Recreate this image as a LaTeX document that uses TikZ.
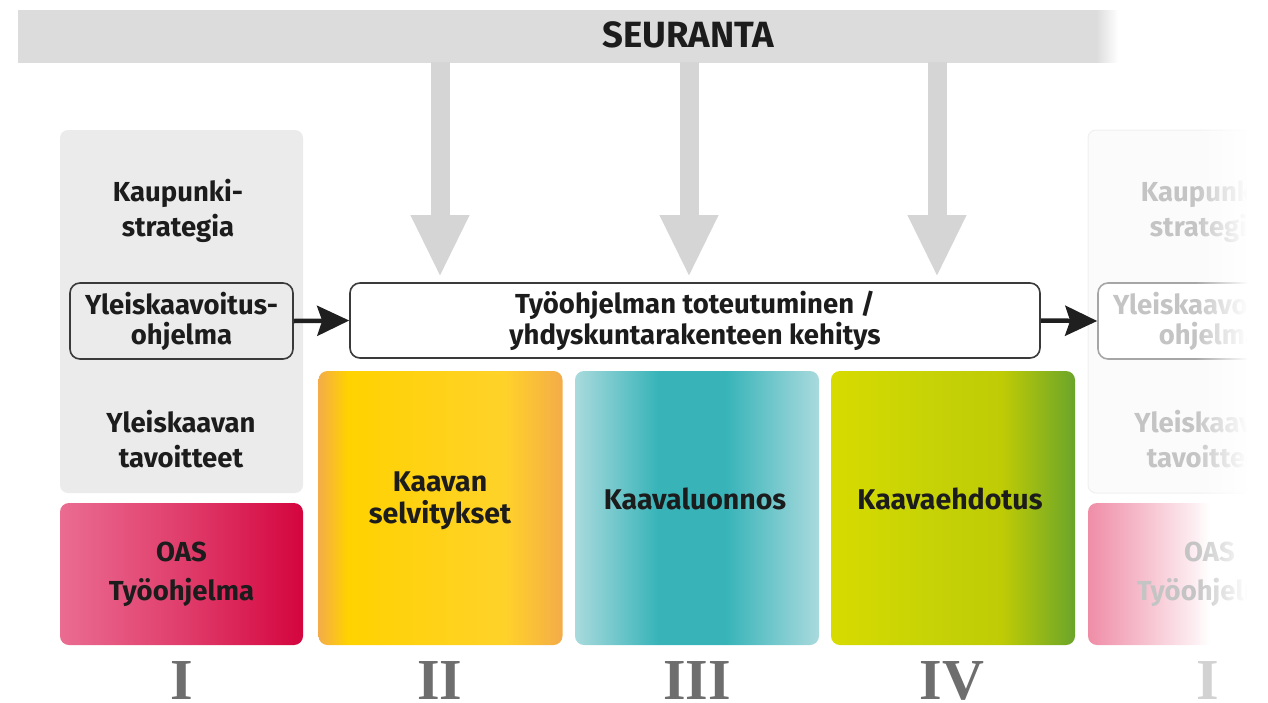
\documentclass[tikz,border=0pt]{standalone}
\usepackage{fontspec}
\setmainfont{Fira Sans}
\newfontfamily\numfont{Liberation Serif}
\usetikzlibrary{arrows.meta,fadings,positioning}

\definecolor{bannergray}{HTML}{DCDCDC}
\definecolor{arrowgray}{HTML}{D5D5D5}
\definecolor{panelgray}{HTML}{EBEBEB}
\definecolor{textdark}{HTML}{1C1C1C}
\definecolor{framegray}{HTML}{3A3A3A}
\definecolor{numgray}{HTML}{6E6E6E}
\definecolor{fadetext}{HTML}{C4C4C4}

\definecolor{pinkleft}{HTML}{EA6C91}
\definecolor{pinkright}{HTML}{D4053F}
\definecolor{yedge}{HTML}{F4AC48}
\definecolor{ymid}{HTML}{FFD200}
\definecolor{ymidb}{HTML}{FFD22A}
\definecolor{tedge}{HTML}{A9DADD}
\definecolor{tmid}{HTML}{38B4B9}
\definecolor{gleft}{HTML}{D7DB00}
\definecolor{gmid}{HTML}{BFCB05}
\definecolor{gright}{HTML}{6BA52A}
\definecolor{pinkfade}{HTML}{EF8DA7}

\pgfdeclarehorizontalshading{bannershade}{100bp}{color(0bp)=(bannergray); color(74bp)=(bannergray); color(75bp)=(white); color(100bp)=(white)}
\pgfdeclarehorizontalshading{oasshade}{100bp}{color(0bp)=(pinkleft); color(25bp)=(pinkleft); color(50bp)=(pinkleft!55!pinkright); color(75bp)=(pinkright); color(100bp)=(pinkright)}
\pgfdeclarehorizontalshading{yshade}{100bp}{color(0bp)=(yedge); color(25bp)=(yedge); color(31bp)=(ymid); color(63bp)=(ymidb); color(75bp)=(yedge); color(100bp)=(yedge)}
\pgfdeclarehorizontalshading{tshade}{100bp}{color(0bp)=(tedge); color(25bp)=(tedge); color(42bp)=(tmid); color(56bp)=(tmid); color(75bp)=(tedge); color(100bp)=(tedge)}
\pgfdeclarehorizontalshading{gshade}{100bp}{color(0bp)=(gleft); color(25bp)=(gleft); color(45bp)=(gleft!85!gright); color(60bp)=(gmid); color(75bp)=(gright); color(100bp)=(gright)}
\pgfdeclarehorizontalshading{oasfade}{100bp}{color(0bp)=(pinkfade); color(25bp)=(pinkfade); color(47bp)=(pinkfade!15!white); color(50bp)=(white); color(100bp)=(white)}
\tikzfading[name=fadeleft, left color=transparent!100, right color=transparent!0]

\newcommand\fsz[2]{\fontsize{#1}{#2}\selectfont}

\begin{document}
\begin{tikzpicture}[
    x=1pt,
    y=-1pt,
    banner/.style={shading=bannershade, minimum width=1100pt, minimum height=52pt, inner sep=0pt},
    panel/.style={fill=panelgray, rounded corners=8pt, minimum width=243pt, minimum height=363pt, inner sep=0pt},
    lbl/.style={font=\bfseries\fsz{27.5}{35}, text=textdark, align=center},
    frame/.style={draw=framegray, line width=1.6pt, rounded corners=10pt, align=center, inner sep=0pt, font=\bfseries\fsz{27.5}{30}, text=textdark},
    phase/.style={rounded corners=9pt, minimum height=274pt, minimum width=244pt, inner sep=0pt},
    phasetext/.style={font=\bfseries\fsz{28.5}{32}, text=textdark, align=center},
    numeral/.style={font=\numfont\bfseries\fsz{58}{58}, text=numgray, anchor=base, inner sep=0pt},
    flow/.style={-{Stealth[length=32pt,width=30pt,inset=5pt]}, line width=4.5pt, draw=black!88},
    feed/.style={-{Triangle[length=62pt,width=54pt]}, line width=19pt, draw=arrowgray, shorten >=5pt}
]
\useasboundingbox (0,0) rectangle (1268,702);

\node[banner] (seuranta) at (568,36) {};
\node[font=\bfseries\fsz{36.5}{36.5}, text=textdark] (seurantatext) at (688,35) {SEURANTA};

\node[panel] (leftpanel) at (181.5,311.5) {};
\node[lbl] (strategia) at (178,211) {Kaupunki-\\strategia};
\node[frame, fill=panelgray, minimum width=223pt, minimum height=76pt] (ykohj) at (181.5,321) {Yleiskaavoitus-\\ohjelma};
\node[lbl] (tavoitteet) at (181,439) {Yleiskaavan\\tavoitteet};

\node[frame, fill=white, minimum width=690pt, minimum height=75pt, font=\bfseries\fsz{27.5}{31}] (tyo) at (695,320.5) {Työohjelman toteutuminen /\\yhdyskuntarakenteen kehitys};

\coordinate (feedA) at (440,0);
\coordinate (feedB) at (689,0);
\coordinate (feedC) at (937,0);
\draw[feed] (feedA |- seuranta.south) -- (feedA |- tyo.north);
\draw[feed] (feedB |- seuranta.south) -- (feedB |- tyo.north);
\draw[feed] (feedC |- seuranta.south) -- (feedC |- tyo.north);

\node[phase, shading=oasshade, minimum height=142pt, minimum width=243pt, phasetext, font=\bfseries\fsz{27.5}{39}] (oas) at (181.5,574) {OAS\\Työohjelma};
\node[phase, shading=yshade] (selvitys) at (440.5,508) {};
\node[phase, shading=tshade] (luonnos) at (697,508) {};
\node[phase, shading=gshade] (ehdotus) at (953,508) {};
\node[phasetext] (selvitystext) at (440,501) {Kaavan\\selvitykset};
\node[phasetext] (luonnostext) at (695,499) {Kaavaluonnos};
\node[phasetext] (ehdotustext) at (950,499) {Kaavaehdotus};

\node[numeral] (n1) at (182,699) {I};
\node[numeral] (n2) at (440,699) {II};
\node[numeral] (n3) at (697,699) {III};
\node[numeral] (n4) at (952,699) {IV};

\begin{scope}[xshift=1028pt]
\node[panel, fill=gray!3, draw=gray!12, line width=1pt] (rightpanel) at (181.5,311.5) {};
\node[lbl, text=fadetext] (strategia2) at (178,211) {Kaupunki-\\strategia};
\node[frame, draw=gray!70, fill=white, text=fadetext, minimum width=223pt, minimum height=76pt] (ykohj2) at (181.5,321) {Yleiskaavoitus-\\ohjelma};
\node[lbl, text=fadetext] (tavoitteet2) at (181,439) {Yleiskaavan\\tavoitteet};
\node[phase, shading=oasfade, minimum height=142pt, minimum width=243pt, phasetext, text=fadetext, font=\bfseries\fsz{27.5}{39}] (oas2) at (181.5,574) {OAS\\Työohjelma};
\node[numeral, text=gray!35] (n5) at (180,699) {I};
\end{scope}

\draw[flow] (ykohj.east) -- (tyo.west);
\draw[flow] (tyo.east) -- (ykohj2.west);

\fill[white, path fading=fadeleft] (1195,120) rectangle (1248,652);
\fill[white] (1247,120) rectangle (1268,652);
\end{tikzpicture}
\end{document}
